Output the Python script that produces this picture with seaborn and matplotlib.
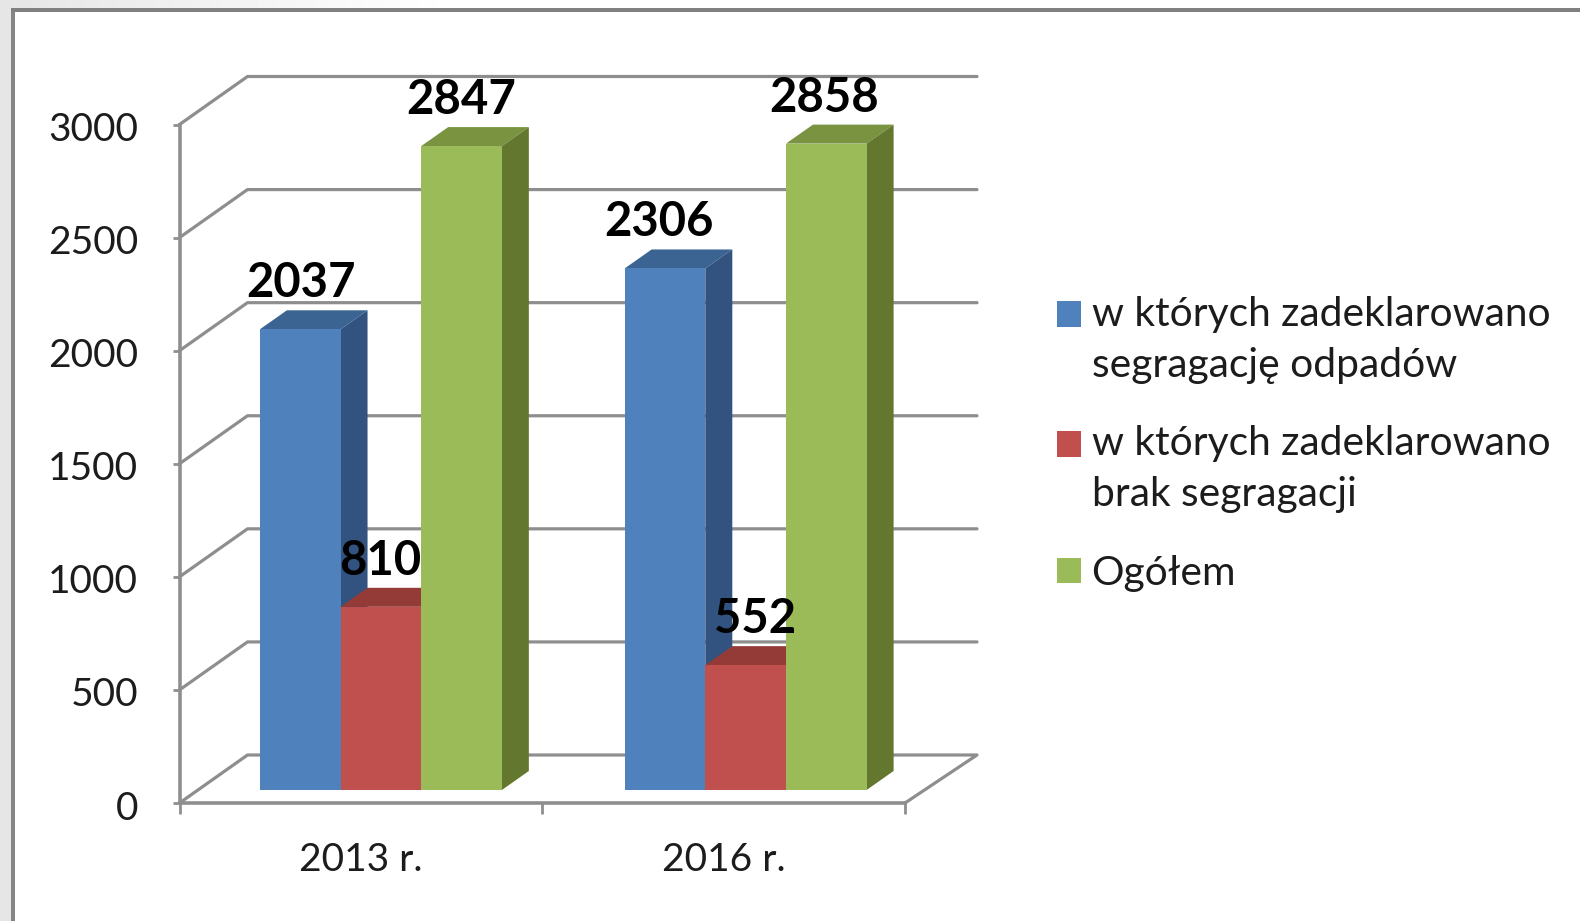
import numpy as np
import pandas as pd
import matplotlib
matplotlib.use("Agg")
import matplotlib.pyplot as plt
import seaborn as sns
from matplotlib.lines import Line2D
from matplotlib.patches import Patch, Polygon, Rectangle
from matplotlib.transforms import Affine2D, IdentityTransform

years = ["2013 r.", "2016 r."]
series_names = ["w których zadeklarowano\nsegragację odpadów",
                "w których zadeklarowano\nbrak segragacji",
                "Ogółem"]
declared = [2037, 2306]
not_declared = [810, 552]
total = [2847, 2858]
y_ticks = [0, 500, 1000, 1500, 2000, 2500, 3000]
front_colors = ["#4f81bd", "#c0504d", "#9bbb59"]
top_colors = ["#3c6493", "#943a37", "#7a9340"]
side_colors = ["#325380", "#7d3230", "#64772f"]
# horizontal label nudges in pixels, in the order series by series
label_nudges = [1, -6, -1, 9, 0, -2]
group_shift = [0, 2]

W, H = 1580, 921
GRID = "#8e8e8e"
sns.set_theme(style="white")
plt.rcParams["font.family"] = ["Lato", "DejaVu Sans"]

fig = plt.figure(figsize=(W / 100, H / 100), dpi=100, facecolor="white")

# surrounding frame
bg = fig.add_axes([0, 1 - 9 / H, 1, 9 / H], zorder=0)
bg.imshow(np.clip(np.linspace(0.90, 1.25, 256), 0, 1)[None, :], cmap="gray", vmin=0, vmax=1, aspect="auto")
bg.axis("off")
fig.add_artist(Rectangle((0, 0), 11 / W, 1, transform=fig.transFigure, fc="#e6e6e6", ec="none", zorder=1))
fig.add_artist(Rectangle((11 / W, 0), 3.5 / W, 1 - 8 / H, transform=fig.transFigure, fc="#868686", ec="none", zorder=1))
fig.add_artist(Rectangle((11 / W, 1 - 12 / H), 1 - 11 / W, 4 / H, transform=fig.transFigure, fc="#808080", ec="none", zorder=1))

left, right, y0, y3000 = 179.5, 905.0, 803.0, 124.5
ax = fig.add_axes([left / W, 1 - y0 / H, (right - left) / W, (y0 - y3000) / H], zorder=2)
ax.patch.set_alpha(0)

df = pd.DataFrame({
    "year": years * 3,
    "series": np.repeat(series_names, 2),
    "value": declared + not_declared + total,
})
sns.barplot(data=df, x="year", y="value", hue="series", hue_order=series_names,
            palette=front_colors, width=0.667, gap=0, saturation=1, dodge=True,
            legend=False, ax=ax, linewidth=0, order=years, zorder=5)
ax.set_xlim(-0.5, 1.5)
ax.set_ylim(0, max(y_ticks))
ax.set_xlabel("")
ax.set_ylabel("")
ax.set_yticks(y_ticks)
ax.set_xticks([-0.5, 0.5, 1.5], minor=False, labels=["", "", ""])
ax.set_xticks([0, 1], minor=True, labels=years)
ax.tick_params(axis="x", which="major", length=11 * 0.72, width=2, color=GRID, direction="out", bottom=True)
ax.tick_params(axis="x", which="minor", length=0, pad=28, labelsize=28, labelcolor="#1c1c1c", bottom=False)
ax.tick_params(axis="y", length=7 * 0.72, width=2, color=GRID, direction="out", left=True,
               pad=24.7, labelsize=28, labelcolor="#1c1c1c")
for tick in ax.yaxis.get_major_ticks():
    tick.label1.set_transform(tick.label1.get_transform() + Affine2D().translate(0, -2))
for s in ["top", "right"]:
    ax.spines[s].set_visible(False)
for s in ["left", "bottom"]:
    ax.spines[s].set_color(GRID)
    ax.spines[s].set_linewidth(2.6)
    ax.spines[s].set_zorder(3)
fig.canvas.draw()

# 3-D wall, floor, grid
WALL_DX, WALL_DY = 68, 48
RIGHT_DX = 72
BAR_DX, BAR_DY = 20, 13
DEPTH_DX, DEPTH_DY = 27, 19
to_px = ax.transData.transform
id_tr = IdentityTransform()
xl, xr = ax.get_xlim()
for v in y_ticks:
    (x_a, y_a), (x_b, _) = to_px([(xl, v), (xr, v)])
    pts = [(x_a, y_a), (x_a + WALL_DX, y_a + WALL_DY), (x_b + RIGHT_DX, y_a + WALL_DY)]
    if v == 0:
        pts.append((x_b, y_a))
    xs, ys = zip(*pts)
    ax.add_line(Line2D(xs, ys, transform=id_tr, color=GRID, lw=2.3, zorder=1, clip_on=False))

# bars: shift front faces into the chart depth, add top and side faces
bars = list(ax.patches)
n_cat = len(years)
values = declared + not_declared + total
for i, bar in enumerate(bars):
    hue_i = i // n_cat
    cat_i = i % n_cat
    x0 = bar.get_x()
    x1 = x0 + bar.get_width()
    (ax0, ay0), (ax1, ay1) = to_px([(x0, 0), (x1, values[i])])
    shift = BAR_DX + group_shift[cat_i]
    ax0 += shift; ax1 += shift; ay0 += BAR_DY; ay1 += BAR_DY
    z = 5 + hue_i * 2
    bar.set_visible(False)
    ax.add_patch(Polygon([(ax0, ay0), (ax1, ay0), (ax1, ay1), (ax0, ay1)], closed=True, transform=id_tr,
                         fc=front_colors[hue_i], ec="none", zorder=z + 1, clip_on=False))
    ax.add_patch(Polygon([(ax0, ay1), (ax1, ay1), (ax1 + DEPTH_DX, ay1 + DEPTH_DY), (ax0 + DEPTH_DX, ay1 + DEPTH_DY)],
                         closed=True, transform=id_tr, fc=top_colors[hue_i], ec="none", zorder=z, clip_on=False))
    ax.add_patch(Polygon([(ax1, ay0), (ax1 + DEPTH_DX, ay0 + DEPTH_DY), (ax1 + DEPTH_DX, ay1 + DEPTH_DY), (ax1, ay1)],
                         closed=True, transform=id_tr, fc=side_colors[hue_i], ec="none", zorder=z, clip_on=False))
    ax.annotate(str(values[i]), xy=((x0 + x1) / 2, values[i]),
                xytext=(shift + label_nudges[i], BAR_DY + DEPTH_DY + 27), textcoords="offset pixels",
                ha="center", va="center", fontsize=34, fontweight="bold", color="black",
                zorder=20, annotation_clip=False)

handles = [Patch(fc=c, ec="none") for c in front_colors]
leg = fig.legend(handles, series_names, loc="upper left", bbox_to_anchor=(1057 / W, 1 - 296 / H),
                 frameon=False, fontsize=29.3, handlelength=0.6, handleheight=0.6, handletextpad=0.25,
                 labelspacing=1.03, borderpad=0, borderaxespad=0, labelcolor="#1c1c1c")
for t in leg.get_texts():
    t.set_linespacing(1.45)
# keep each colour square level with the first line of its entry
for patch, lift in zip(leg.get_patches(), [26, 26, 0]):
    patch.set_y(patch.get_y() + lift / (100 / 72))

fig.savefig("out.png", dpi=100, facecolor="white")
